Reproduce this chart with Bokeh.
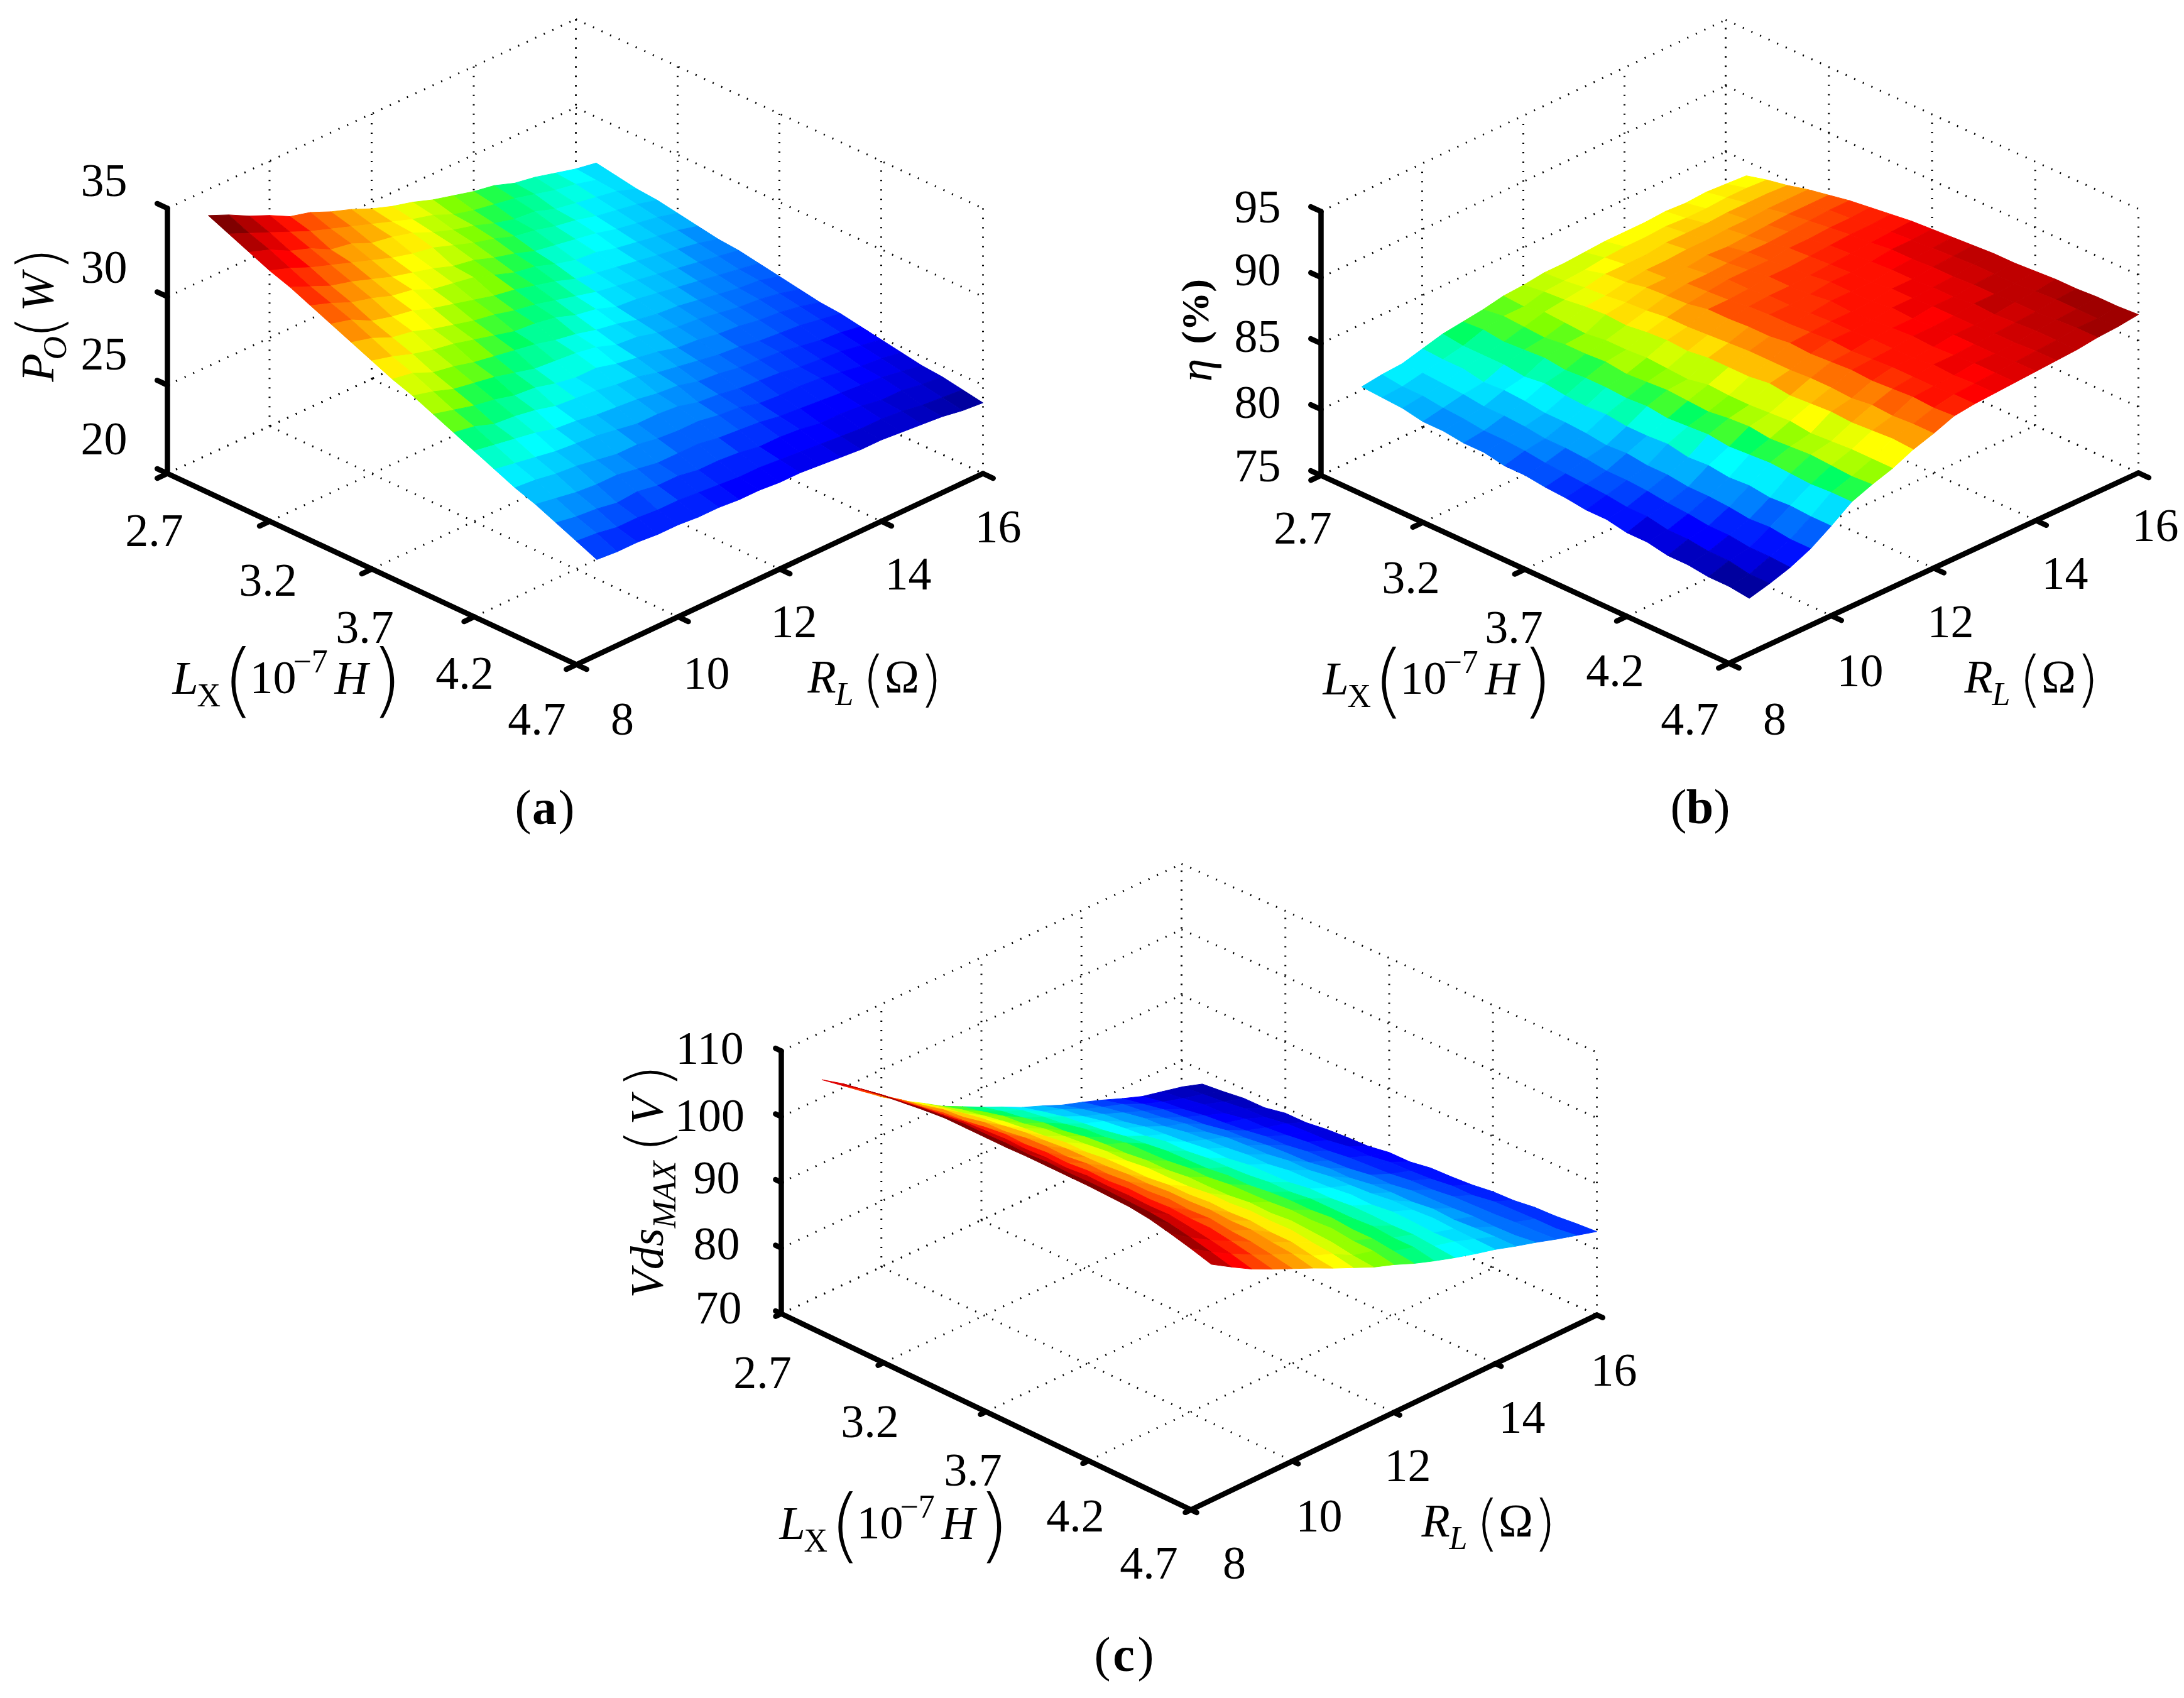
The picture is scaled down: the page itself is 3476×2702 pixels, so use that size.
import math
from bokeh.plotting import figure
from bokeh.models import ColumnDataSource
from bokeh.embed import file_html
from bokeh.resources import INLINE

L_TICKS = [2.7, 3.2, 3.7, 4.2, 4.7]
R_TICKS = [8, 10, 12, 14, 16]
L_VALUES = [2.8, 2.9, 3.0, 3.1, 3.2, 3.3, 3.4, 3.5, 3.6, 3.7, 3.8, 3.9, 4.0, 4.1, 4.2, 4.3, 4.4, 4.5, 4.6, 4.7]
R_VALUES = [8.4, 8.8, 9.2, 9.6, 10.0, 10.4, 10.8, 11.2, 11.6, 12.0, 12.4, 12.8, 13.2, 13.6, 14.0, 14.4, 14.8, 15.2, 15.6, 16.0]

Z_TICKS_A = [20, 25, 30, 35]
Z_TICKS_B = [75, 80, 85, 90, 95]
Z_TICKS_C = [70, 80, 90, 100, 110]

# rows: L_VALUES, columns: R_VALUES
PO_WATT = [
 [34.6,34.1,33.5,33.0,32.4,32.1,31.6,31.2,30.7,30.3,30.0,29.6,29.3,29.0,28.8,28.4,28.2,27.9,27.6,27.4],
 [34.1,33.6,33.1,32.6,32.1,31.7,31.3,30.9,30.5,30.1,29.8,29.3,29.0,28.8,28.6,28.3,28.0,27.8,27.5,27.2],
 [33.6,33.2,32.6,32.2,31.6,31.4,30.9,30.7,30.4,29.9,29.5,29.2,28.8,28.5,28.4,28.0,27.8,27.6,27.4,27.0],
 [33.1,32.7,32.2,31.8,31.4,31.0,30.6,30.3,30.1,29.7,29.3,29.0,28.6,28.4,28.1,27.9,27.6,27.4,27.2,26.9],
 [32.7,32.2,31.7,31.4,31.0,30.6,30.3,30.0,29.6,29.4,29.0,28.7,28.3,28.1,27.9,27.7,27.4,27.2,27.0,26.7],
 [32.2,31.8,31.3,31.0,30.6,30.4,29.9,29.7,29.5,29.1,28.7,28.5,28.1,27.8,27.7,27.4,27.2,27.0,26.8,26.5],
 [31.7,31.4,30.8,30.5,30.3,29.9,29.6,29.3,29.0,28.8,28.5,28.2,27.8,27.6,27.4,27.2,27.0,26.8,26.6,26.3],
 [31.2,30.9,30.4,30.2,29.8,29.5,29.2,29.0,28.7,28.5,28.2,27.9,27.6,27.4,27.2,27.0,26.8,26.6,26.4,26.2],
 [30.7,30.4,30.0,29.7,29.5,29.2,28.9,28.6,28.5,28.3,27.9,27.7,27.3,27.2,27.0,26.8,26.6,26.4,26.2,26.0],
 [30.2,30.0,29.5,29.3,29.0,28.8,28.6,28.4,28.1,27.9,27.6,27.4,27.1,26.9,26.8,26.6,26.4,26.2,26.1,25.8],
 [29.8,29.5,29.1,28.9,28.7,28.4,28.1,28.0,27.9,27.7,27.3,27.2,26.9,26.7,26.6,26.4,26.2,26.1,25.9,25.6],
 [29.3,29.0,28.7,28.5,28.2,28.1,27.8,27.6,27.6,27.3,27.1,26.9,26.6,26.5,26.3,26.2,26.0,25.9,25.7,25.4],
 [28.8,28.6,28.2,28.1,27.9,27.6,27.5,27.4,27.2,27.1,26.8,26.6,26.4,26.2,26.1,25.9,25.8,25.7,25.5,25.3],
 [28.3,28.1,27.9,27.7,27.4,27.3,27.1,27.0,26.9,26.7,26.6,26.3,26.2,26.0,25.9,25.8,25.6,25.4,25.3,25.1],
 [27.8,27.6,27.4,27.2,27.1,27.0,26.8,26.6,26.6,26.5,26.2,26.1,25.9,25.8,25.7,25.5,25.4,25.3,25.1,24.9],
 [27.3,27.2,27.0,26.9,26.7,26.5,26.5,26.3,26.2,26.2,26.0,25.9,25.6,25.5,25.5,25.4,25.2,25.0,24.9,24.7],
 [26.9,26.7,26.5,26.4,26.4,26.2,26.0,26.0,26.0,25.8,25.7,25.6,25.4,25.3,25.2,25.1,25.0,24.9,24.7,24.5],
 [26.4,26.2,26.1,25.9,26.0,25.8,25.8,25.6,25.6,25.5,25.3,25.3,25.2,25.0,25.0,24.9,24.7,24.7,24.5,24.4],
 [25.9,25.8,25.6,25.6,25.5,25.5,25.4,25.3,25.2,25.2,25.1,25.0,24.9,24.8,24.7,24.7,24.6,24.4,24.3,24.2],
 [25.4,25.3,25.3,25.2,25.2,25.1,25.1,25.0,25.0,24.9,24.9,24.8,24.7,24.6,24.6,24.5,24.4,24.3,24.1,24.0],
]

ETA_PCT = [
 [81.7,81.9,82.0,82.4,82.8,83.0,83.2,83.5,83.6,83.8,83.8,83.9,84.0,84.0,84.0,84.1,84.0,84.1,84.0,83.9],
 [81.6,81.7,82.0,82.3,82.6,83.1,83.4,83.4,83.8,83.9,84.0,84.2,84.3,84.3,84.4,84.3,84.3,84.4,84.4,84.3],
 [81.5,81.7,81.9,82.3,82.6,82.9,83.3,83.7,83.9,84.1,84.4,84.4,84.4,84.6,84.6,84.6,84.7,84.7,84.7,84.6],
 [81.2,81.5,81.8,82.0,82.6,83.0,83.2,83.6,84.1,84.2,84.5,84.7,84.7,84.8,84.8,84.9,84.9,85.0,85.0,85.0],
 [81.2,81.4,81.6,82.1,82.4,83.1,83.4,83.5,84.2,84.4,84.8,84.8,84.9,85.1,85.0,85.1,85.2,85.3,85.3,85.3],
 [81.0,81.2,81.6,82.0,82.6,82.9,83.4,83.7,84.1,84.5,84.9,85.1,85.1,85.2,85.3,85.3,85.4,85.5,85.6,85.6],
 [81.0,81.2,81.5,81.8,82.4,83.0,83.5,83.7,84.3,84.7,85.0,85.2,85.4,85.4,85.4,85.6,85.6,85.7,85.7,85.8],
 [80.7,81.1,81.3,81.8,82.3,83.0,83.3,83.8,84.4,84.7,85.3,85.3,85.4,85.6,85.6,85.7,85.8,85.9,85.9,86.0],
 [80.7,80.9,81.3,81.7,82.4,82.9,83.4,83.7,84.3,84.8,85.3,85.5,85.6,85.6,85.7,85.8,85.9,86.0,86.1,86.2],
 [80.5,80.8,81.2,81.5,82.2,83.0,83.5,83.6,84.5,84.9,85.4,85.6,85.6,85.7,85.9,85.9,86.0,86.2,86.2,86.3],
 [80.4,80.7,81.0,81.6,82.2,82.8,83.4,83.9,84.5,85.0,85.4,85.6,85.7,85.9,85.9,85.9,86.1,86.2,86.3,86.4],
 [80.2,80.6,81.0,81.4,82.3,82.9,83.3,83.8,84.5,85.0,85.6,85.7,85.8,85.8,85.9,86.1,86.1,86.3,86.4,86.5],
 [80.2,80.4,80.9,81.4,82.0,83.0,83.5,83.8,84.7,85.0,85.5,85.8,85.8,85.9,86.1,86.1,86.2,86.3,86.5,86.6],
 [79.9,80.4,80.7,81.2,82.1,82.8,83.6,83.9,84.5,85.1,85.6,85.7,85.9,86.0,86.0,86.2,86.2,86.4,86.5,86.6],
 [79.9,80.1,80.6,81.2,81.9,82.9,83.4,84.0,84.6,85.1,85.7,85.8,85.9,86.1,86.1,86.2,86.4,86.4,86.5,86.7],
 [79.6,80.1,80.4,81.1,82.0,83.0,83.5,83.8,84.7,85.0,85.6,85.9,85.9,86.0,86.2,86.2,86.3,86.5,86.6,86.8],
 [79.6,79.9,80.4,80.9,81.8,82.9,83.6,83.9,84.6,85.2,85.7,85.9,86.1,86.1,86.2,86.3,86.4,86.5,86.7,86.8],
 [79.4,79.9,80.2,81.0,81.9,82.8,83.5,84.0,84.7,85.1,85.8,85.9,86.0,86.2,86.2,86.3,86.5,86.6,86.7,86.9],
 [79.4,79.6,80.2,80.8,81.8,82.9,83.4,84.0,84.8,85.2,85.7,86.0,86.1,86.2,86.3,86.4,86.5,86.7,86.7,86.9],
 [79.2,79.6,80.1,80.8,81.8,82.9,83.5,84.0,84.7,85.2,85.8,86.0,86.1,86.2,86.3,86.4,86.5,86.7,86.8,87.0],
]

VDS_MAX = [
 [105.7,103.4,101.1,98.8,96.8,95.0,93.1,91.6,90.1,88.7,87.2,86.0,84.7,83.7,82.6,81.4,80.3,79.6,78.9,77.9],
 [106.6,104.3,101.9,99.8,97.6,95.8,94.0,92.3,90.9,89.6,88.0,86.9,85.5,84.4,83.4,82.0,80.9,80.0,79.2,78.2],
 [107.2,104.9,102.5,100.2,98.4,96.4,94.6,93.1,91.4,90.1,88.7,87.3,86.2,85.0,83.8,82.6,81.2,80.5,79.5,78.6],
 [107.7,105.3,103.0,100.8,98.7,97.0,95.2,93.4,92.1,90.5,89.1,88.0,86.5,85.6,84.2,82.9,81.7,80.6,79.9,78.6],
 [108.1,105.8,103.4,101.1,99.4,97.4,95.6,94.1,92.3,91.2,89.5,88.4,87.2,85.8,84.8,83.2,82.0,81.2,80.0,79.2],
 [108.5,106.1,103.8,101.6,99.5,97.9,95.9,94.4,92.9,91.4,90.1,88.7,87.5,86.4,85.0,83.8,82.3,81.3,80.5,79.2],
 [108.8,106.4,104.0,102.0,100.0,98.1,96.4,94.7,93.2,92.0,90.4,89.3,87.8,86.7,85.6,84.0,82.8,81.6,80.7,79.6],
 [108.8,106.4,104.2,101.9,100.2,98.4,96.4,95.1,93.3,92.1,90.8,89.3,88.2,86.9,85.8,84.4,82.9,82.0,80.8,79.8],
 [108.8,106.5,104.1,102.2,100.1,98.5,96.8,95.1,93.7,92.2,90.9,89.7,88.2,87.3,85.9,84.6,83.4,82.1,81.3,79.9],
 [108.8,106.4,104.3,102.1,100.5,98.6,96.9,95.5,93.7,92.6,91.0,89.8,88.7,87.3,86.4,84.7,83.5,82.5,81.3,80.4],
 [108.9,106.6,104.2,102.4,100.4,98.9,96.9,95.5,94.1,92.6,91.4,90.0,88.8,87.8,86.4,85.2,83.7,82.7,81.8,80.4],
 [108.9,106.5,104.5,102.3,100.7,98.9,97.3,95.6,94.1,93.0,91.4,90.4,88.9,87.9,86.9,85.2,84.2,82.9,81.9,80.9],
 [108.9,106.6,104.4,102.6,100.7,99.2,97.3,96.0,94.2,93.1,91.8,90.4,89.4,88.1,87.0,85.7,84.2,83.3,82.1,81.0],
 [108.9,106.6,104.5,102.5,101.0,99.2,97.6,96.0,94.6,93.2,92.0,90.8,89.4,88.5,87.2,85.9,84.7,83.4,82.5,81.2],
 [108.8,106.5,104.4,102.7,100.8,99.4,97.5,96.3,94.5,93.5,92.0,90.8,89.7,88.4,87.6,85.9,84.8,83.8,82.5,81.6],
 [108.7,106.4,104.5,102.5,101.0,99.2,97.7,96.2,94.8,93.4,92.3,90.8,89.7,88.8,87.6,86.3,84.9,83.9,83.0,81.7],
 [108.3,106.1,104.1,102.5,100.6,99.3,97.4,96.3,94.6,93.6,92.0,91.0,89.6,88.7,87.8,86.1,85.1,84.0,83.1,82.1],
 [107.6,105.5,103.6,102.0,100.4,98.9,97.4,95.9,94.4,93.2,92.0,90.7,89.7,88.5,87.6,86.3,85.0,84.2,83.2,82.2],
 [106.8,104.8,103.0,101.4,99.9,98.6,96.8,95.6,93.9,93.1,91.6,90.7,89.4,88.6,87.5,86.4,85.1,84.3,83.2,82.5],
 [105.9,104.0,102.2,100.7,99.3,97.9,96.4,95.0,93.6,92.5,91.2,90.1,89.1,88.2,87.4,86.4,85.5,84.5,83.6,82.7],
]

FONT = "Liberation Serif"
THIN = "DejaVu Sans Light"
W, H = 3468, 2694
p = figure(width=W, height=H, x_range=(0, W), y_range=(H, 0),
           x_axis_type=None, y_axis_type=None, toolbar_location=None,
           output_backend="svg", min_border=0, outline_line_color=None,
           background_fill_color="white", border_fill_color="white")


def jet(t):
    # MATLAB-style jet as it appears in the figure: its green stays saturated
    k = min(63, max(0, int(t * 64)))
    v = (k + 1) / 64
    c = lambda a: int(round(255 * max(0.0, min(1.0, a))))
    r, g, b = min(4*v-1.5, -4*v+4.5), min(4*v-0.5, -4*v+3.5), min(4*v+0.5, -4*v+2.5)
    if 0.375 < v <= 0.47:
        r, b = 0.0, 1 - (v - 0.375) / 0.095 * 0.62
    elif 0.47 < v <= 0.53:
        r, b = (v - 0.47) / 0.06 * 0.5, 0.38 * (0.53 - v) / 0.06
    elif 0.53 < v <= 0.625:
        r, b = 0.5 + (v - 0.53) / 0.095 * 0.5, 0.0
    return "#%02x%02x%02x" % (c(r), c(g), c(b))


texts = dict(x=[], y=[], text=[], size=[], style=[], angle=[], align=[], font=[])


def T(x, y, s, size=74, style="normal", angle=0.0, align="left", font=FONT):
    off = 0.35 * size
    if angle:
        x -= off
    else:
        y -= off
    texts["x"].append(x); texts["y"].append(y); texts["text"].append(s)
    texts["size"].append("%dpx" % size); texts["style"].append(style)
    texts["angle"].append(angle); texts["align"].append(align); texts["font"].append(font)


def paren(cx, cy, s, height, angle=0.0):
    size = int(round(height / 0.89))
    drop = 0.314 * size
    if angle:
        T(cx + drop, cy, s, size, angle=angle, align="center", font=THIN)
    else:
        T(cx, cy + drop, s, size, align="center", font=THIN)


def lx_label(x0, b):
    T(x0, b, "L", 74, "italic")
    T(x0 + 39, b + 20, "X", 52)
    paren(x0 + 105, b - 19, "(", 115)
    T(x0 + 123, b, "10", 74)
    T(x0 + 192, b - 34, "\u22127", 52)
    T(x0 + 258, b, "H", 74, "italic")
    paren(x0 + 341, b - 19, ")", 115)


def rl_label(x0, b):
    T(x0, b, "R", 74, "italic")
    T(x0 + 44, b + 20, "L", 52, "italic")
    paren(x0 + 105, b - 19, "(", 85)
    T(x0 + 150, b, "\u03a9", 74, align="center")
    paren(x0 + 196, b - 19, ")", 85)


def caption(cx, b, letter):
    T(cx - 34, b, "(", 78, align="center")
    T(cx, b, letter, 78, "bold", align="center")
    T(cx + 35, b, ")", 78, align="center")


def draw_panel(table, zt, left, bottom, right, back, height, tick_frac, zlab, llab, rlab):
    zmin, zmax = zt[0], zt[-1]

    def P(L, R, z):
        u = (L - 2.7) / 2.0
        v = (R - 8.0) / 8.0
        x = (1-u)*(1-v)*left[0] + u*(1-v)*bottom[0] + u*v*right[0] + (1-u)*v*back[0]
        y = (1-u)*(1-v)*left[1] + u*(1-v)*bottom[1] + u*v*right[1] + (1-u)*v*back[1]
        return x, y - (z - zmin) / (zmax - zmin) * height

    gx, gy = [], []

    def seg(a, b):
        gx.append([a[0], b[0]]); gy.append([a[1], b[1]])

    for L in L_TICKS:
        seg(P(L, 8, zmin), P(L, 16, zmin))
        seg(P(L, 16, zmin), P(L, 16, zmax))
    for R in R_TICKS:
        seg(P(2.7, R, zmin), P(4.7, R, zmin))
        seg(P(2.7, R, zmin), P(2.7, R, zmax))
    for z in zt:
        seg(P(2.7, 8, z), P(2.7, 16, z))
        seg(P(2.7, 16, z), P(4.7, 16, z))
    p.multi_line(gx, gy, line_color="black", line_width=3, line_dash="2 13")

    tlo, thi = min(min(r) for r in table), max(max(r) for r in table)
    cells = sorted(((i, j) for i in range(19) for j in range(19)), key=lambda c: c[0] - c[1])
    xs, ys, cs = [], [], []
    for i, j in cells:
        q = [(i, j), (i + 1, j), (i + 1, j + 1), (i, j + 1)]
        pts = [P(L_VALUES[a], R_VALUES[b], table[a][b]) for a, b in q]
        xs.append([c[0] for c in pts]); ys.append([c[1] for c in pts])
        cs.append(jet((table[i][j] - tlo) / (thi - tlo)))
    p.patches(xs, ys, fill_color=cs, line_color=cs, line_width=1)

    ax, ay = [], []

    def aseg(a, b):
        ax.append([a[0], b[0]]); ay.append([a[1], b[1]])

    aseg(P(2.7, 8, zmin), P(2.7, 8, zmax))
    aseg(P(2.7, 8, zmin), P(4.7, 8, zmin))
    aseg(P(4.7, 8, zmin), P(4.7, 16, zmin))
    for L in L_TICKS:
        aseg(P(L, 8, zmin), P(L, 8 - 8 * tick_frac, zmin))
    for R in R_TICKS:
        aseg(P(4.7, R, zmin), P(4.7 + 2 * tick_frac, R, zmin))
    for z in zt:
        aseg(P(2.7, 8, z), P(2.7 - 2 * tick_frac, 8, z))
    p.multi_line(ax, ay, line_color="black", line_width=8.5, line_cap="round")

    for v, (cx, cy) in zip(zt, zlab):
        T(cx, cy + 25, str(v), align="center")
    for v, (cx, cy) in zip(L_TICKS, llab):
        T(cx, cy + 25, str(v), align="center")
    for v, (cx, cy) in zip(R_TICKS, rlab):
        T(cx, cy + 25, str(v), align="center")


UP = math.pi / 2

# (a)
draw_panel(PO_WATT, Z_TICKS_A, (266, 753), (917, 1057), (1564, 753), (916, 452), 422, 0.025,
           [(165, 699), (165, 564), (165, 426), (165, 288)],
           [(245, 845), (426, 924), (580, 999), (739, 1072), (854, 1145)],
           [(990, 1145), (1124, 1072), (1263, 990), (1445, 914), (1588, 839)])
lx_label(274, 1104)
rl_label(1285, 1102)
caption(866, 1311, "a")
T(85, 607, "P", 74, "italic", UP)
T(105, 572, "O", 52, "italic", UP)
paren(66, 520, "(", 85, UP)
T(85, 495, "W", 74, "italic", UP)
paren(66, 412, ")", 85, UP)

# (b)
draw_panel(ETA_PCT, Z_TICKS_B, (2102, 756), (2751, 1055), (3403, 752), (2746, 451), 420, 0.025,
           [(2001, 742), (2001, 641), (2001, 536), (2001, 430), (2001, 330)],
           [(2073, 841), (2245, 920), (2409, 999), (2570, 1068), (2689, 1145)],
           [(2824, 1145), (2960, 1068), (3104, 990), (3286, 913), (3430, 837)])
lx_label(2105, 1105)
rl_label(3126, 1102)
caption(2705, 1310, "b")
T(1928, 607, "\u03b7", 74, "italic", UP)
T(1923, 547, "(%)", 62, "bold", UP)

# (c)
draw_panel(VDS_MAX, Z_TICKS_C, (1243, 2090), (1895, 2402), (2541, 2092), (1880, 1792), 418, 0.014,
           [(1143, 2082), (1140, 1980), (1140, 1875), (1129, 1776), (1129, 1669)],
           [(1213, 2185), (1384, 2263), (1548, 2340), (1711, 2413), (1828, 2488)],
           [(1964, 2488), (2099, 2413), (2240, 2333), (2422, 2256), (2568, 2181)])
lx_label(1240, 2449)
rl_label(2262, 2445)
caption(1788, 2659, "c")
T(1055, 2065, "Vds", 74, "italic", UP)
T(1075, 1954, "MAX", 52, "italic", UP)
paren(1035, 1815, "(", 85, UP)
T(1055, 1789, "V", 74, "italic", UP)
paren(1035, 1712, ")", 85, UP)

p.text(x="x", y="y", text="text", angle="angle", text_font="font",
       text_font_size="size", text_font_style="style", text_align="align",
       text_baseline="alphabetic", text_color="black", source=ColumnDataSource(texts))

open("out.html", "w").write(file_html(p, INLINE))
